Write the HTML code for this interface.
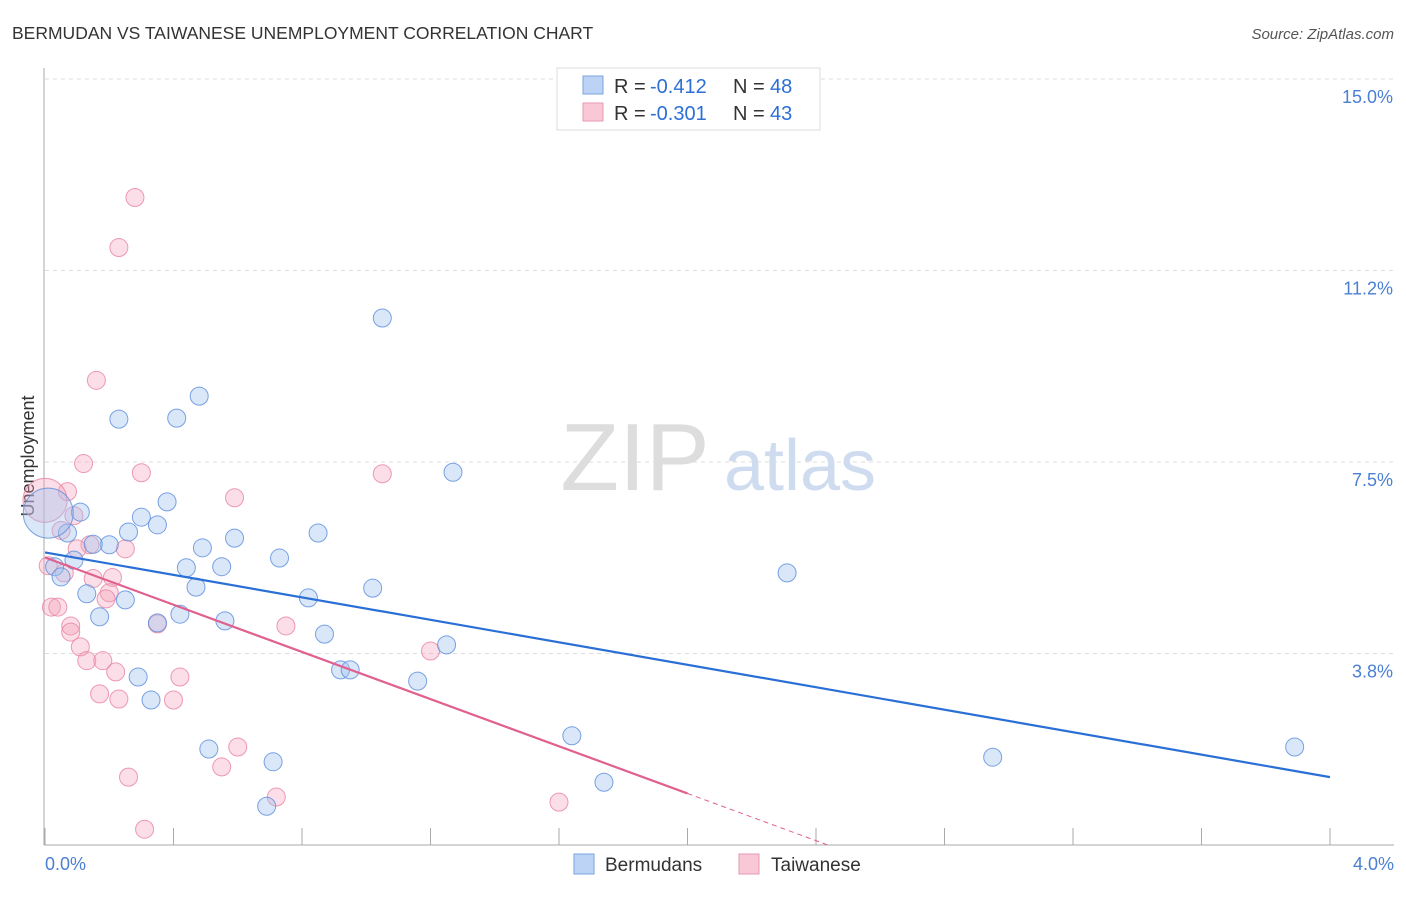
<!DOCTYPE html>
<html><head><meta charset="utf-8"><style>
body{margin:0;background:#fff;font-family:"Liberation Sans",sans-serif}
svg text{font-family:"Liberation Sans",sans-serif}
</style></head><body>
<svg width="1406" height="892">
<text x="12" y="39" font-size="17.5" fill="#333">BERMUDAN VS TAIWANESE UNEMPLOYMENT CORRELATION CHART</text>
<text x="1394" y="39" font-size="15" fill="#555" font-style="italic" text-anchor="end">Source: ZipAtlas.com</text>
<text x="34" y="456" font-size="18" fill="#333" transform="rotate(-90 34 456)" text-anchor="middle">Unemployment</text>
<g id="grid"></g>
<g id="wm"><text x="635" y="490" font-size="96" fill="#ddd" font-family="Liberation Serif" text-anchor="middle">ZIP</text><text x="800" y="490" font-size="72" fill="#cfdcf0" text-anchor="middle">atlas</text></g>
<g id="pts"></g>
<g id="lines"></g>
<g id="legend">
<rect x="557" y="68" width="263" height="62" fill="#fff" stroke="#ddd"/>
<rect x="583" y="76" width="20" height="18" fill="#bcd3f5" stroke="#7aa3e0"/>
<text x="614" y="93" font-size="20" fill="#333">R =</text><text x="650" y="93" font-size="20" fill="#2d6fd6">-0.412</text>
<text x="733" y="93" font-size="20" fill="#333">N =</text><text x="770" y="93" font-size="20" fill="#2d6fd6">48</text>
<rect x="583" y="103" width="20" height="18" fill="#f9c8d6" stroke="#e89ab2"/>
<text x="614" y="120" font-size="20" fill="#333">R =</text><text x="650" y="120" font-size="20" fill="#2d6fd6">-0.301</text>
<text x="733" y="120" font-size="20" fill="#333">N =</text><text x="770" y="120" font-size="20" fill="#2d6fd6">43</text>
</g>
<g>
<rect x="574" y="854" width="20" height="20" fill="#bcd3f5" stroke="#7aa3e0"/>
<text x="605" y="871" font-size="19" fill="#333">Bermudans</text>
<rect x="739" y="854" width="20" height="20" fill="#f9c8d6" stroke="#e89ab2"/>
<text x="771" y="871" font-size="19" fill="#333">Taiwanese</text>
</g>
</svg>
<script>
const xTicks=[0,0.4,0.8,1.2,1.6,2.0,2.4,2.8,3.2,3.6,4.0];
const yTicks=[3.75,7.5,11.25,15];
const yTickLabels=["3.8%","7.5%","11.2%","15.0%"];
const bermX=[1.05,0.48,0.23,0.41,1.27,0.38,0.30,0.11,0.35,0.26,0.07,0.85,0.59,0.20,0.15,0.49,0.73,0.09,0.44,0.55,0.03,2.31,0.05,0.47,1.02,0.13,0.82,0.25,0.42,0.17,0.56,0.35,0.87,1.25,0.29,0.92,0.95,1.16,0.33,1.64,0.51,3.89,2.95,0.71,1.74,0.69,0.01];
const bermY=[10.32,8.79,8.34,8.36,7.30,6.72,6.42,6.52,6.27,6.13,6.11,6.11,6.01,5.88,5.89,5.82,5.62,5.58,5.43,5.45,5.45,5.33,5.25,5.05,5.03,4.92,4.84,4.80,4.52,4.47,4.39,4.35,4.13,3.92,3.29,3.43,3.43,3.21,2.84,2.14,1.88,1.92,1.72,1.63,1.23,0.76,6.50];
const bermR=[9,9,9,9,9,9,9,9,9,9,9,9,9,9,9,9,9,9,9,9,9,9,9,9,9,9,9,9,9,9,9,9,9,9,9,9,9,9,9,9,9,9,9,9,9,9,25];
const taiX=[0.28,0.23,0.16,0.12,0.30,1.05,0.07,0.59,0.09,0.05,0.14,0.25,0.10,0.01,0.06,0.15,0.21,0.20,0.19,0.02,0.04,0.08,0.08,0.35,0.75,1.20,0.11,0.13,0.18,0.22,0.42,0.17,0.23,0.40,0.60,0.55,0.26,0.72,1.60,0.31,0.0];
const taiY=[12.68,11.70,9.10,7.47,7.29,7.27,6.92,6.80,6.45,6.16,5.88,5.80,5.80,5.47,5.33,5.22,5.24,4.94,4.82,4.66,4.66,4.29,4.17,4.33,4.29,3.80,3.88,3.61,3.61,3.39,3.29,2.96,2.86,2.84,1.92,1.53,1.33,0.94,0.84,0.31,6.75];
const taiR=[9,9,9,9,9,9,9,9,9,9,9,9,9,9,9,9,9,9,9,9,9,9,9,9,9,9,9,9,9,9,9,9,9,9,9,9,9,9,9,9,22];
const trendIntercept=[5.73,5.63];
const trendSlope=[-1.10,-2.31];
const trendEnd=[4.0,2.0];
const X=v=>45+v*321.25, Y=v=>79+(15-v)*51.07;
const NS="http://www.w3.org/2000/svg";
function mk(t,a,p){const e=document.createElementNS(NS,t);for(const k in a)e.setAttribute(k,a[k]);p.appendChild(e);return e;}
const grid=document.getElementById('grid');
yTicks.forEach((v,i)=>{
const l=mk('line',{x1:45,x2:1394,y1:Y(v),y2:Y(v),stroke:'#ddd','stroke-dasharray':'4,4'},grid);


const t=mk('text',{x:1393,y:Y(v)+24,'font-size':18,fill:'#4a7fd4','text-anchor':'end'},grid);t.textContent=yTickLabels[i];


});
const ax=mk('line',{x1:44,x2:44,y1:68,y2:845,stroke:'#aaa'},grid);


const bx=mk('line',{x1:44,x2:1394,y1:845,y2:845,stroke:'#aaa'},grid);


xTicks.forEach(v=>{const t=mk('line',{x1:X(v),x2:X(v),y1:828,y2:845,stroke:'#aaa'},grid);

});
const l0=mk('text',{x:45,y:870,'font-size':18,fill:'#4a7fd4'},grid);l0.textContent='0.0%';


const l1=mk('text',{x:1394,y:870,'font-size':18,fill:'#4a7fd4','text-anchor':'end'},grid);l1.textContent='4.0%';


const pts=document.getElementById('pts');
taiX.forEach((v,i)=>{const c=mk('circle',{cx:X(v),cy:Y(taiY[i]),r:taiR[i],fill:'rgba(244,160,186,0.35)',stroke:'rgba(232,130,160,0.8)','stroke-width':1},pts);

});
bermX.forEach((v,i)=>{const c=mk('circle',{cx:X(v),cy:Y(bermY[i]),r:bermR[i],fill:'rgba(160,195,240,0.4)',stroke:'rgba(90,140,220,0.8)','stroke-width':1},pts);

});
const lines=document.getElementById('lines');
const cols=['#2a6fd6','#e0608f'];
[0,1].forEach(i=>{const f=v=>trendIntercept[i]+trendSlope[i]*v;
const l=mk('line',{x1:X(0),y1:Y(f(0)),x2:X(trendEnd[i]),y2:Y(f(trendEnd[i])),stroke:cols[i],'stroke-width':2.2},lines);


if(i==1){const xe=-trendIntercept[i]/trendSlope[i];
const d=mk('line',{x1:X(trendEnd[i]),y1:Y(f(trendEnd[i])),x2:X(xe),y2:Y(0),stroke:cols[i],'stroke-width':1,'stroke-dasharray':'5,4'},lines);

}
});
</script>
</body></html>
